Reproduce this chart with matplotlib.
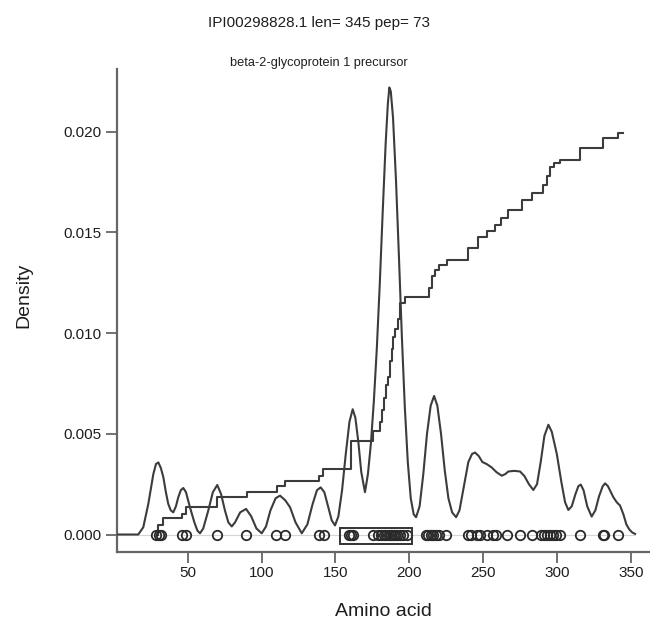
import matplotlib
matplotlib.use("Agg")
import matplotlib.pyplot as plt
from matplotlib.patches import Rectangle

plt.rcParams['font.family'] = ['Liberation Sans', 'DejaVu Sans']

title_main = "IPI00298828.1 len= 345 pep= 73"
title_sub = "beta-2-glycoprotein 1 precursor"

# density curve (amino acid, density)
dens_x = [2.1, 16.5, 19.9, 23.3, 26.7, 28.5, 30.1, 31.8, 33.5, 35.2, 36.8, 38.5, 40.2, 42, 43.6, 45.3,
          47.0, 48.8, 51.5, 54.5, 56.5, 58.3, 60.5, 63.9, 67, 70.0, 72.6, 75.2, 77.5, 79.8, 82, 85.5,
          89.5, 93, 96.5, 100.1, 103, 106, 109.5, 112.5, 116, 119.3, 123, 127.2, 131, 134.5, 137.5,
          140, 142.5, 145, 147.5, 149.7, 152, 154.5, 157, 159.5, 161.7, 163.5, 165.5, 167.5, 170,
          172, 174, 176, 178, 180, 182, 184, 185.5, 186.5, 187.5, 189, 191, 193, 195, 197, 199, 201,
          203, 204.6, 207, 209.5, 212, 214.5, 216.8, 219, 221.5, 224, 226.5, 229, 231.7, 234, 237,
          240, 242.5, 244.5, 247, 249.5, 252.4, 255.8, 259, 262.6, 265, 267.1, 271, 275, 278, 281,
          284, 286.5, 289, 291.5, 294.2, 296.5, 299.9, 303, 305.5, 307.7, 310, 312.5, 314.5, 316.1,
          318, 320.5, 323.5, 326, 328.5, 331, 332.6, 334.5, 336.5, 338.2, 340.5, 342.7, 345, 347,
          349, 351, 352.9]
dens_y = [0.0, 0.0, 0.00036, 0.00152, 0.0030, 0.0035, 0.00358, 0.0033, 0.00284, 0.0021, 0.00152,
          0.0012, 0.0011, 0.0014, 0.00185, 0.0022, 0.00231, 0.0021, 0.00135, 0.0006, 0.0002, 0.00006,
          0.0003, 0.00119, 0.0021, 0.00246, 0.0020, 0.00119, 0.0006, 0.0004, 0.0006, 0.0011, 0.00127,
          0.0009, 0.0003, 0.00006, 0.0004, 0.0012, 0.0018, 0.00193, 0.0017, 0.00135, 0.0006, 0.00006,
          0.0005, 0.0015, 0.0022, 0.00234, 0.0021, 0.0014, 0.0007, 0.00045, 0.0009, 0.0022, 0.0040,
          0.0056, 0.00622, 0.0058, 0.0046, 0.0031, 0.0021, 0.0030, 0.0045, 0.0066, 0.0092, 0.0124,
          0.0160, 0.0194, 0.0214, 0.0222, 0.0220, 0.0207, 0.0176, 0.0138, 0.0098, 0.0063, 0.0036,
          0.0018, 0.0010, 0.00086, 0.0014, 0.0030, 0.0050, 0.0064, 0.00688, 0.0064, 0.0050, 0.0032,
          0.0018, 0.0011, 0.00086, 0.0012, 0.0024, 0.0036, 0.0040, 0.00407, 0.0039, 0.0036, 0.0035,
          0.00333, 0.0031, 0.00292, 0.0030, 0.00313, 0.00316, 0.00313, 0.0029, 0.0025, 0.00221,
          0.0025, 0.0036, 0.0049, 0.00545, 0.0051, 0.0040, 0.0026, 0.0016, 0.00122, 0.0014, 0.0020,
          0.0024, 0.00248, 0.0022, 0.0014, 0.00089, 0.0012, 0.0019, 0.0024, 0.00254, 0.0024, 0.0021,
          0.00185, 0.0016, 0.00144, 0.0010, 0.0005, 0.00025, 0.0001, 0.00003]

# cumulative step line: jump positions and level after each jump
step_x = [30.1, 33.5, 45.9, 48.8, 70.0, 89.9, 110.2, 115.9, 139.1, 141.8, 160.6, 175.2, 180.0,
          181.5, 183.0, 184.5, 185.6, 187.0, 188.2, 189.2, 190.5, 192.4, 193.8, 197.1, 213.6, 215.5,
          217.5, 220.0, 225.3, 240.0, 246.8, 252.4, 258.1, 262.0, 267.1, 276.1, 282.9, 290.8, 293.0,
          295.3, 298.0, 302.1, 315.6, 331.4, 341.6, 345.0]
step_y = [0.00048, 0.00081, 0.00102, 0.00135, 0.00185, 0.0021, 0.00243, 0.00267, 0.00292, 0.00325,
          0.00465, 0.00515, 0.0056, 0.0062, 0.0068, 0.0074, 0.0078, 0.0086, 0.0092, 0.0098, 0.0102,
          0.0107, 0.0115, 0.0118, 0.01224, 0.01282, 0.01315, 0.0134, 0.01365, 0.01422, 0.01475,
          0.01505, 0.01538, 0.0157, 0.01612, 0.01662, 0.01694, 0.01736, 0.0178, 0.01827, 0.01845,
          0.0186, 0.01917, 0.01967, 0.01996, 0.01996]

# peptide start positions (circles on the baseline)
pep_pos = [28.5, 30.5, 32, 46, 49, 70, 89.5, 110, 116, 139, 142,
           159, 160.5, 162, 175.5, 179, 181, 183, 184.5, 186, 187.5, 189, 190.5, 192, 194, 196, 198.3,
           211, 213, 214.5, 216, 218, 220, 225,
           240, 241.5, 246, 248, 252.5, 257, 259, 266, 275, 283,
           289, 291, 293, 295, 297, 299.5, 302, 315.6, 331, 332, 341]

# highlighted peptide cluster
box_start, box_end = 153, 201.7

line_col = "#3c3c3c"

fig = plt.figure(figsize=(6.5, 6.22), dpi=100)
ax = fig.add_axes([0.18, 0.1125, 0.82, 0.777])

ax.hlines(0, 2.1, 353, color="#d4d4d4", lw=0.8, zorder=1)
ax.plot(dens_x, dens_y, color=line_col, lw=1.5, zorder=3)
ax.step([step_x[0]] + step_x, [0.0] + step_y, where="post", color=line_col, lw=1.5, zorder=3)
ax.plot(pep_pos, [0] * len(pep_pos), "o", ms=6.8, mfc="none", mec="#2a2a2a", mew=1.3, zorder=4)
ax.add_patch(Rectangle((box_start, -0.00046), box_end - box_start, 0.00079,
                       fill=False, ec="#333333", lw=1.4, zorder=5))

ax.set_xlim(2.1, 363)
ax.set_ylim(-0.00087, 0.02313)
ax.set_xticks([50, 100, 150, 200, 250, 300, 350])
ax.set_yticks([0.0, 0.005, 0.010, 0.015, 0.020])
ax.set_yticklabels(["0.000", "0.005", "0.010", "0.015", "0.020"])

for side in ["top", "right"]:
    ax.spines[side].set_visible(False)
for side in ["left", "bottom"]:
    ax.spines[side].set_color("#666666")
    ax.spines[side].set_linewidth(1.6)
ax.tick_params(axis="both", length=8, width=1.3, color="#666666", labelsize=11,
               labelcolor="#1e1e1e")
ax.tick_params(axis="x", pad=2)
ax.tick_params(axis="y", pad=3)

fig.text(319 / 650, 1 - 23 / 622, title_main, ha="center", va="center", fontsize=11, color="#1e1e1e")
fig.text(318.5 / 650, 1 - 63 / 622, title_sub, ha="center", va="center", fontsize=9.2, color="#1e1e1e")
fig.text(24 / 650, 1 - 295 / 622, "Density", ha="center", va="center", rotation=90, fontsize=14,
         color="#1e1e1e")
fig.text(383 / 650, 1 - 612 / 622, "Amino acid", ha="center", va="center", fontsize=14,
         color="#1e1e1e")

fig.savefig("out.png", dpi=100)
